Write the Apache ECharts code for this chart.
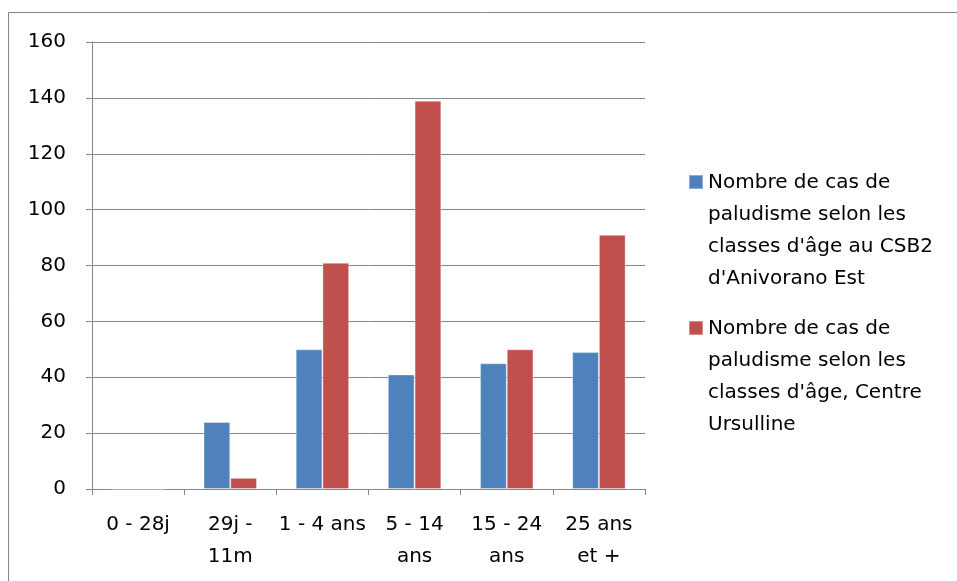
<!DOCTYPE html>
<html>
<head>
<meta charset="utf-8">
<script src="https://cdn.jsdelivr.net/npm/echarts@6/dist/echarts.min.js"></script>
<style>
html,body{margin:0;padding:0;background:#fff;}
#c{width:957px;height:581px;}
</style>
</head>
<body>
<div id="c"></div>
<script>
const categories = ['0 - 28j', '29j -\n11m', '1 - 4 ans', '5 - 14\nans', '15 - 24\nans', '25 ans\net +'];
const seriesNames = [
  "Nombre de cas de\npaludisme selon les\nclasses d'âge au CSB2\nd'Anivorano Est",
  "Nombre de cas de\npaludisme selon les\nclasses d'âge, Centre\nUrsulline"
];
const csb2Values = [0, 24, 50, 41, 45, 49];
const ursullineValues = [0, 4, 81, 139, 50, 91];
const yTicks = [0, 20, 40, 60, 80, 100, 120, 140, 160];

const FONT = 'DejaVu Sans';
const FS = 20;
const LH = 32;
// icon: square near top of a tall, invisible bounding box so it lines up with first text line
const iconPath = 'path://M0,0L0.01,0L0.01,0.01Z M0,8L14,8L14,22L0,22Z M0,128L0.01,128L0.01,127.99Z';

const chart = echarts.init(document.getElementById('c'), null, {renderer: 'canvas'});
chart.setOption({
  animation: false,
  backgroundColor: '#fff',
  textStyle: {fontFamily: FONT},
  graphic: [{
    type: 'rect',
    shape: {x: 8.5, y: 12.5, width: 1000, height: 700},
    style: {fill: 'none', stroke: '#868686', lineWidth: 1},
    silent: true, z: -1
  }],
  grid: {left: 92, top: 42, right: 312, bottom: 92, containLabel: false},
  legend: {
    orient: 'vertical',
    left: 688,
    top: 166,
    padding: 0,
    itemWidth: 14,
    itemHeight: 128,
    itemGap: 16,
    icon: iconPath,
    textStyle: {fontFamily: FONT, fontSize: FS, color: '#000', lineHeight: LH},
    data: seriesNames
  },
  xAxis: {
    type: 'category',
    data: categories,
    axisLine: {lineStyle: {color: '#868686', width: 1}},
    axisTick: {show: true, length: 6, lineStyle: {color: '#868686'}, alignWithLabel: false},
    axisLabel: {fontFamily: FONT, fontSize: FS, color: '#000', lineHeight: LH, margin: 20, interval: 0}
  },
  yAxis: {
    type: 'value',
    min: 0, max: 160, interval: 20,
    axisLine: {show: true, lineStyle: {color: '#868686', width: 1}},
    axisTick: {show: true, length: 6, lineStyle: {color: '#868686'}},
    splitLine: {show: true, lineStyle: {color: '#868686', width: 1}},
    axisLabel: {
      fontFamily: FONT, fontSize: FS, color: '#000', margin: 26,
      formatter: v => (yTicks.indexOf(v) >= 0 ? String(v) : '')
    }
  },
  series: [
    {
      name: seriesNames[0], type: 'bar', data: csb2Values,
      barGap: '0%', barCategoryGap: '42%',
      itemStyle: {color: '#4F81BD', borderColor: 'rgba(255,255,255,0.35)', borderWidth: 1}
    },
    {
      name: seriesNames[1], type: 'bar', data: ursullineValues,
      barGap: '0%', barCategoryGap: '42%',
      itemStyle: {color: '#C0504D', borderColor: 'rgba(255,255,255,0.35)', borderWidth: 1}
    }
  ]
});
</script>
</body>
</html>
